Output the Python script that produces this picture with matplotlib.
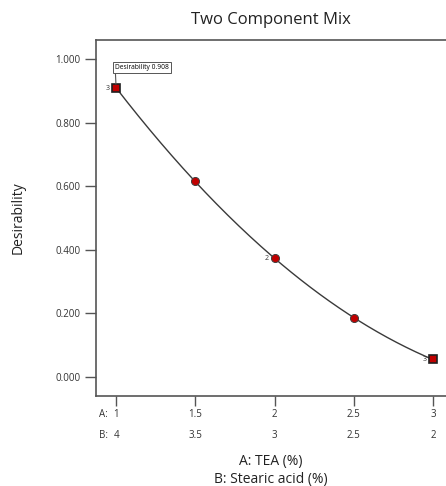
import matplotlib.pyplot as plt
import matplotlib.transforms as mtransforms
import numpy as np

# Data
a_vals = [1, 1.5, 2, 2.5, 3]
b_vals = [4, 3.5, 3, 2.5, 2]
desirability = [0.908, 0.617, 0.373, 0.184, 0.056]
replicates = {0: "3", 2: "2", 4: "3"}
a_ticks = ["1", "1.5", "2", "2.5", "3"]
b_ticks = ["4", "3.5", "3", "2.5", "2"]
y_ticks = [0.0, 0.2, 0.4, 0.6, 0.8, 1.0]

plt.rcParams['font.family'] = ['Open Sans', 'DejaVu Sans']

fig = plt.figure(figsize=(4.46, 4.86), dpi=100)
ax = fig.add_axes([96/446, 1 - 396/486, 350/446, 356/486])

# smooth curve through the design points (quadratic fit)
coef = np.polyfit(a_vals, desirability, 2)
xs = np.linspace(1, 3, 200)
ax.plot(xs, np.polyval(coef, xs), color="#3a3a3a", lw=1.0, zorder=2)

for i, (x, y) in enumerate(zip(a_vals, desirability)):
    if i in (0, len(a_vals) - 1):
        ax.plot(x, y, marker="s", ms=5.5, mfc="#c00000", mec="#202020", mew=1.2, zorder=3)
    else:
        ax.plot(x, y, marker="o", ms=5.8, mfc="#c00000", mec="#404040", mew=0.7, zorder=3)
    if i in replicates:
        ax.text(x - 0.04, y, replicates[i], fontsize=5, ha="right", va="center", color="#333333")

# flag for the optimum
ax.annotate(f"Desirability {desirability[0]:.3f}", xy=(a_vals[0], desirability[0]),
            xytext=(a_vals[0] - 0.005, desirability[0] + 0.055), fontsize=4.8,
            ha="left", va="bottom",
            bbox=dict(boxstyle="square,pad=0.3", fc="white", ec="#555555", lw=0.7),
            arrowprops=dict(arrowstyle="-", color="#555555", lw=0.8, shrinkA=0, shrinkB=3,
                            relpos=(0.0, 0.0)))

ax.set_xlim(0.873, 3.082)
ax.set_ylim(-0.06, 1.06)

ax.set_yticks(y_ticks)
ax.set_yticklabels([f"{v:.3f}" for v in y_ticks], fontsize=7, color="#333333")
ax.set_xticks(a_vals)
ax.set_xticklabels([])
ax.tick_params(axis="y", length=8, width=1, color="#555555", pad=3)
ax.tick_params(axis="x", length=7, width=1, color="#555555")

# two rows of component levels under the ticks
trans = mtransforms.blended_transform_factory(ax.transData, fig.transFigure)
for x, a, b in zip(a_vals, a_ticks, b_ticks):
    ax.text(x, 1 - 414/486, a, transform=trans, fontsize=7, color="#333333", ha="center", va="center")
    ax.text(x, 1 - 435/486, b, transform=trans, fontsize=7, color="#333333", ha="center", va="center")
fig.text(99/446, 1 - 414/486, "A:", fontsize=7, color="#333333", ha="left", va="center")
fig.text(99/446, 1 - 435/486, "B:", fontsize=7, color="#333333", ha="left", va="center")

for side in ["top", "left", "bottom"]:
    ax.spines[side].set_color("#555555")
    ax.spines[side].set_linewidth(1.2)
ax.spines["right"].set_visible(False)

fig.text(271/446, 1 - 461/486, "A: TEA (%)", fontsize=10, ha="center", va="center", color="#222222")
fig.text(271/446, 1 - 479/486, "B: Stearic acid (%)", fontsize=10, ha="center", va="center", color="#222222")
fig.text(18/446, 1 - 218/486, "Desirability", fontsize=10, rotation=90, ha="center", va="center", color="#222222")
fig.text(271/446, 1 - 20/486, "Two Component Mix", fontsize=12, ha="center", va="center", color="#222222")

plt.savefig("out.png", dpi=100)
